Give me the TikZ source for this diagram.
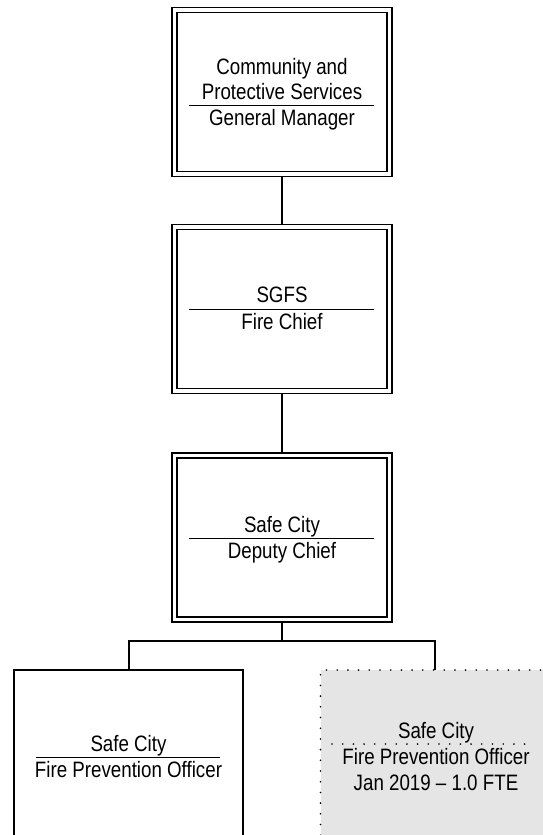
\documentclass[tikz,border=0pt]{standalone}
\usepackage{fontspec}
\setmainfont[FakeStretch=0.84]{Liberation Sans}
\usetikzlibrary{backgrounds}
\definecolor{vacant}{RGB}{229,229,229}
\begin{document}
\begin{tikzpicture}[x=1pt,y=-1pt,
  dbox/.style={draw, line width=1.5pt, double, double distance=3.5pt,
    minimum width=215pt, minimum height=164pt, inner sep=0pt, outer sep=0pt},
  sbox/.style={draw, line width=2pt, minimum width=229pt, minimum height=190pt,
    inner sep=0pt, outer sep=0pt},
  vbox/.style={draw, fill=vacant, line width=1.8pt, line cap=round,
    dash pattern=on 0pt off 10.7pt,
    minimum width=229pt, minimum height=190pt, inner sep=0pt, outer sep=0pt},
  txt/.style={anchor=base, inner sep=0pt, font=\fontsize{22.3}{26}\selectfont},
  sepline/.style={line width=1.3pt},
  dotline/.style={line width=1.8pt, line cap=round, dash pattern=on 0pt off 10.7pt},
  conn/.style={line width=2pt}]
\useasboundingbox (0,0) rectangle (543,835);

% boxes
\node[dbox] (gm) at (282,92) {};
\node[dbox] (fc) at (282,309) {};
\node[dbox] (dc) at (282,537.5) {};
\node[sbox] (fpo) at (128.5,765) {};
\node[vbox] (fpo2) at (435,765) {};
\coordinate (tee) at (282,641);

% connectors
\begin{scope}[on background layer]
\draw[conn] (gm.south) -- (fc.north);
\draw[conn] (fc.south) -- (dc.north);
\draw[conn] (dc.south) -- (tee);
\draw[conn] (fpo.north) |- (tee) -| (fpo2.north);
\end{scope}

% box 1 text
\node[txt] (t1a) at (282,74) {Community and};
\node[txt] (t1b) at (282,99) {Protective Services};
\draw[sepline] (189,105.5) -- (374,105.5);
\node[txt] (t1c) at (282,125) {General Manager};

% box 2 text
\node[txt] (t2a) at (282,302.7) {SGFS};
\draw[sepline] (189,309.3) -- (374,309.3);
\node[txt] (t2b) at (282,329) {Fire Chief};

% box 3 text
\node[txt] (t3a) at (282,532.3) {Safe City};
\draw[sepline] (189,538.3) -- (374,538.3);
\node[txt] (t3b) at (282,558.3) {Deputy Chief};

% bottom left
\node[txt] (t4a) at (128.5,751) {Safe City};
\draw[sepline] (36,757.5) -- (220,757.5);
\node[txt] (t4b) at (128.5,777) {Fire Prevention Officer};

% bottom right
\node[txt] (t5a) at (436,738) {Safe City};
\draw[dotline] (332,744) -- (532,744);
\node[txt] (t5b) at (436,764.6) {Fire Prevention Officer};
\node[txt] (t5c) at (436,790.6) {Jan 2019 – 1.0 FTE};
\end{tikzpicture}
\end{document}
